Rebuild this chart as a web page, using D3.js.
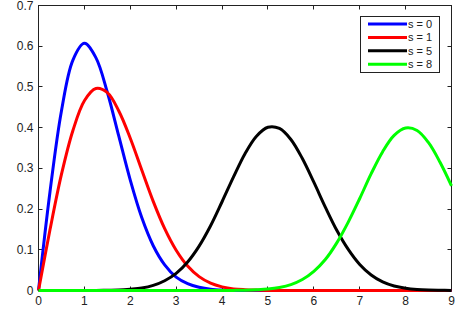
<!DOCTYPE html>
<html>
<head>
<meta charset="utf-8">
<script src="https://cdn.jsdelivr.net/npm/d3@7"></script>
<style>
  html, body { margin: 0; padding: 0; background: #fff; }
  svg { display: block; font-family: "Liberation Sans", Arial, sans-serif; }
</style>
</head>
<body>
<svg id="chart" width="461" height="317"></svg>
<script>
// x grid (step 0.25) shared by all series
const xs = d3.range(0, 9.001, 0.25);

// series values
const s0 = [0, 0.242, 0.441, 0.566, 0.607, 0.572, 0.487, 0.379, 0.271, 0.179, 0.110, 0.063,
  0.033, 0.017, 0.008, 0.003, 0.001, 0.0005, 0.0002, 0, 0, 0, 0, 0, 0, 0, 0, 0, 0, 0, 0, 0,
  0, 0, 0, 0, 0];
const s1 = [0, 0.149, 0.285, 0.393, 0.466, 0.496, 0.486, 0.441, 0.374, 0.296, 0.219, 0.152,
  0.099, 0.060, 0.034, 0.018, 0.009, 0.004, 0.002, 0.001, 0.0003, 0, 0, 0, 0, 0, 0, 0, 0, 0,
  0, 0, 0, 0, 0, 0, 0];
const s5 = [0, 0, 0, 0, 0, 0, 0.0005, 0.001, 0.003, 0.006, 0.0125, 0.024, 0.042, 0.070,
  0.109, 0.159, 0.218, 0.279, 0.336, 0.379, 0.401, 0.398, 0.371, 0.324, 0.266, 0.205, 0.148,
  0.101, 0.064, 0.038, 0.021, 0.011, 0.0056, 0.0026, 0.0011, 0.0005, 0.0002];
const s8 = [0, 0, 0, 0, 0, 0, 0, 0, 0, 0, 0, 0, 0, 0, 0, 0, 0.0001, 0.0003, 0.0007, 0.0017,
  0.0035, 0.0074, 0.0145, 0.027, 0.047, 0.076, 0.117, 0.168, 0.226, 0.287, 0.341, 0.381,
  0.399, 0.393, 0.363, 0.315, 0.257];

const seriesNames = ['s = 0', 's = 1', 's = 5', 's = 8'];
const seriesColors = ['#0000ff', '#ff0000', '#000000', '#00ff00'];
const xTicks = d3.range(0, 10);
const yTicks = [0, 0.1, 0.2, 0.3, 0.4, 0.5, 0.6, 0.7];

const svg = d3.select('#chart');
const plotL = 38.5, plotR = 451.5, plotT = 5.5, plotB = 290.5;

const x = d3.scaleLinear().domain([0, 9]).range([plotL, plotR]);
const y = d3.scaleLinear().domain([0, 0.7]).range([plotB, plotT]);

// axes box
svg.append('rect')
  .attr('x', plotL).attr('y', plotT)
  .attr('width', plotR - plotL).attr('height', plotB - plotT)
  .attr('fill', 'none').attr('stroke', '#222').attr('stroke-width', 1);

// ticks, inward on all four sides
const tickLen = 4;
const tg = svg.append('g').attr('stroke', '#222').attr('stroke-width', 1);
xTicks.forEach(t => {
  const px = Math.round(x(t) - 0.5) + 0.5;
  tg.append('line').attr('x1', px).attr('x2', px).attr('y1', plotB).attr('y2', plotB - tickLen);
  tg.append('line').attr('x1', px).attr('x2', px).attr('y1', plotT).attr('y2', plotT + tickLen);
});
yTicks.forEach(t => {
  const py = Math.round(y(t) - 0.5) + 0.5;
  tg.append('line').attr('x1', plotL).attr('x2', plotL + tickLen).attr('y1', py).attr('y2', py);
  tg.append('line').attr('x1', plotR).attr('x2', plotR - tickLen).attr('y1', py).attr('y2', py);
});

// tick labels
svg.append('g').selectAll('text').data(xTicks).join('text')
  .attr('x', d => x(d)).attr('y', plotB + 14)
  .attr('text-anchor', 'middle').attr('font-size', 12).attr('fill', '#222')
  .text(d => d);
svg.append('g').selectAll('text').data(yTicks).join('text')
  .attr('x', plotL - 5).attr('y', d => y(d) + 4)
  .attr('text-anchor', 'end').attr('font-size', 12).attr('fill', '#222')
  .text(d => d3.format('.1~f')(d));

// curves
const line = d3.line()
  .x((d, i) => x(xs[i]))
  .y(d => y(Math.max(0, d)))
  .curve(d3.curveCatmullRom.alpha(0.5));

[s0, s1, s5, s8].forEach((s, i) => {
  svg.append('path')
    .attr('d', line(s))
    .attr('fill', 'none')
    .attr('stroke', seriesColors[i])
    .attr('stroke-width', 3)
    .attr('stroke-linejoin', 'round');
});

// legend
const lg = svg.append('g');
lg.append('rect')
  .attr('x', 360.5).attr('y', 16.5).attr('width', 79).attr('height', 56)
  .attr('fill', '#fff').attr('stroke', '#222');
seriesNames.forEach((name, i) => {
  const ly = 24 + i * 13.4;
  lg.append('line')
    .attr('x1', 368).attr('x2', 407).attr('y1', ly).attr('y2', ly)
    .attr('stroke', seriesColors[i]).attr('stroke-width', 3);
  lg.append('text')
    .attr('x', 408).attr('y', ly + 4)
    .attr('font-size', 11).attr('fill', '#222')
    .text(name);
});
</script>
</body>
</html>
